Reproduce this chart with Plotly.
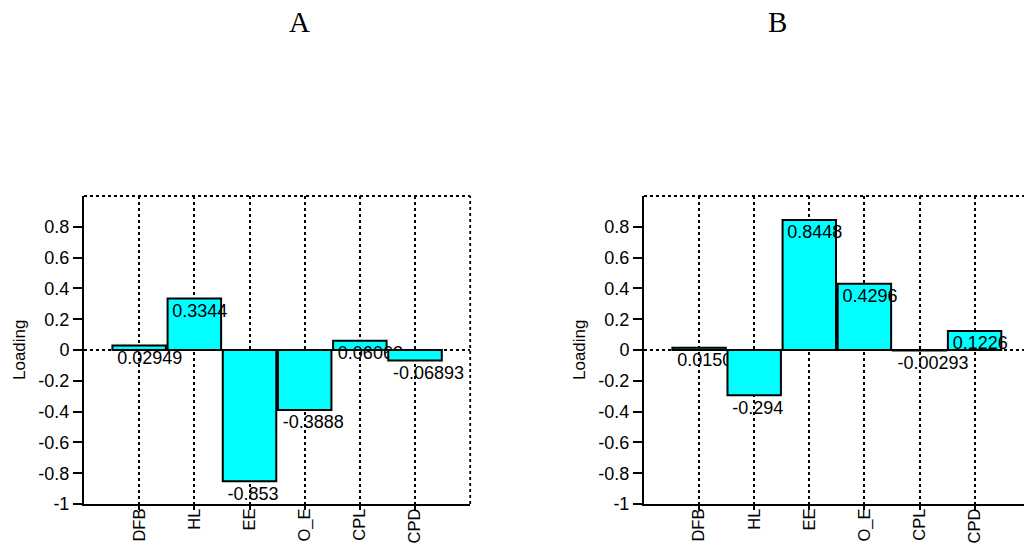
import plotly.graph_objects as go

# ---- data ----
categories = ["DFB", "HL", "EE", "O_E", "CPL", "CPD"]
loadings_A = [0.02949, 0.3344, -0.853, -0.3888, 0.06063, -0.06893]
loadings_B = [0.01504, -0.294, 0.8448, 0.4296, -0.00293, 0.1226]
panel_titles = ["A", "B"]
y_ticks = [-1, -0.8, -0.6, -0.4, -0.2, 0, 0.2, 0.4, 0.6, 0.8]
y_range = [-1, 1]
y_title = "Loading"

# ---- style / layout ----
W, H = 1024, 544
SANS = "Liberation Sans, Arial, sans-serif"
SERIF = "Liberation Serif, Times New Roman, serif"
BAR_W = 0.97
ydom = [40 / H, 348 / H]
panels = [
    dict(vals=loadings_A, dom=[84 / W, 470.2 / W], xmax=7.0, title_x=299 / W, ytitle_x=19 / W),
    dict(vals=loadings_B, dom=[644 / W, 1.0], xmax=380 / 55.1, title_x=777 / W, ytitle_x=579 / W),
]
positions = [i + 1 for i in range(len(categories))]
right_edge = len(categories) + 1
DOT = dict(color="black", width=1.8, dash="dot")

fig = go.Figure()
layout = dict(
    width=W, height=H, margin=dict(l=0, r=0, t=0, b=0, pad=0), autosize=False,
    paper_bgcolor="white", plot_bgcolor="rgba(0,0,0,0)",
    showlegend=False, annotations=[], shapes=[],
)

n = 0
for p, pan in enumerate(panels):
    base = n + 1
    bx = "x" if base == 1 else f"x{base}"
    by = "y" if base == 1 else f"y{base}"
    for i, (cat, v) in enumerate(zip(categories, pan["vals"])):
        n += 1
        xs = "x" if n == 1 else f"x{n}"
        ys = "y" if n == 1 else f"y{n}"
        xk = "xaxis" if n == 1 else f"xaxis{n}"
        yk = "yaxis" if n == 1 else f"yaxis{n}"
        pos = positions[i]
        fig.add_trace(go.Bar(
            x=[pos], y=[v], width=BAR_W, xaxis=xs, yaxis=ys,
            marker=dict(color="#00FFFF", line=dict(color="black", width=2)),
            hoverinfo="skip",
        ))
        fig.add_trace(go.Scatter(
            x=[pos - BAR_W / 2], y=[v], xaxis=xs, yaxis=ys,
            mode="markers+text", text=[f"{v:.4g}"], textposition="bottom right",
            marker=dict(size=6, color="rgba(0,0,0,0)"),
            textfont=dict(family=SANS, size=18, color="black"),
            cliponaxis=False, hoverinfo="skip",
        ))
        if n == base:
            layout[xk] = dict(
                domain=pan["dom"], range=[0, pan["xmax"]], anchor=ys, automargin=False,
                tickmode="array", tickvals=positions, ticktext=categories,
                tickangle=-90, ticks="outside", ticklen=4, tickwidth=1.5, tickcolor="black",
                ticklabelstandoff=-8,
                showline=True, linecolor="black", linewidth=2,
                showgrid=True, gridcolor="black", griddash="dot", gridwidth=1.8,
                zeroline=False, tickfont=dict(family=SANS, size=16.5, color="black"),
                fixedrange=True,
            )
            layout[yk] = dict(
                domain=ydom, range=y_range, anchor=xs, automargin=False,
                tickmode="array", tickvals=y_ticks, ticktext=[f"{t:g}" for t in y_ticks],
                ticks="outside", ticklen=9, tickwidth=1.5, tickcolor="black",
                showline=True, linecolor="black", linewidth=2,
                showgrid=False, zeroline=False,
                tickfont=dict(family=SANS, size=18, color="black"),
                fixedrange=True,
            )
        elif n == base + 1:
            # dotted reference line at zero (grid of an overlay axis, drawn under the bars)
            layout[xk] = dict(overlaying=bx, anchor=ys, range=[0, pan["xmax"]],
                              visible=False, fixedrange=True, automargin=False)
            layout[yk] = dict(
                overlaying=by, anchor=xs, range=y_range, automargin=False,
                tickmode="array", tickvals=[0], showticklabels=False, ticks="",
                showline=False, showgrid=True, gridcolor="black", griddash="dot",
                gridwidth=1.8, zeroline=False, fixedrange=True,
            )
        else:
            layout[xk] = dict(overlaying=bx, anchor=ys, range=[0, pan["xmax"]],
                              visible=False, fixedrange=True, automargin=False)
            layout[yk] = dict(overlaying=by, anchor=xs, range=y_range,
                              visible=False, fixedrange=True, automargin=False)

    # dotted frame: top edge always, right edge only when the category grid reaches it
    layout["shapes"].append(dict(
        type="line", xref=f"{bx} domain", yref=f"{by} domain",
        x0=0, x1=1, y0=1, y1=1, line=DOT, layer="below",
    ))
    if pan["xmax"] >= right_edge:
        layout["shapes"].append(dict(
            type="line", xref=f"{bx} domain", yref=f"{by} domain",
            x0=1, x1=1, y0=0, y1=1, line=DOT, layer="below",
        ))

    layout["annotations"].append(dict(
        text=panel_titles[p], xref="paper", yref="paper",
        x=pan["title_x"], y=1 - 21.5 / H, xanchor="center", yanchor="middle",
        showarrow=False, font=dict(family=SERIF, size=29, color="black"),
    ))
    layout["annotations"].append(dict(
        text=y_title, xref="paper", yref="paper", textangle=-90,
        x=pan["ytitle_x"], y=(ydom[0] + ydom[1]) / 2, xanchor="center", yanchor="middle",
        showarrow=False, font=dict(family=SANS, size=17, color="black"),
    ))

fig.update_layout(**layout)
fig.write_html("out.html", config={"displayModeBar": False})
